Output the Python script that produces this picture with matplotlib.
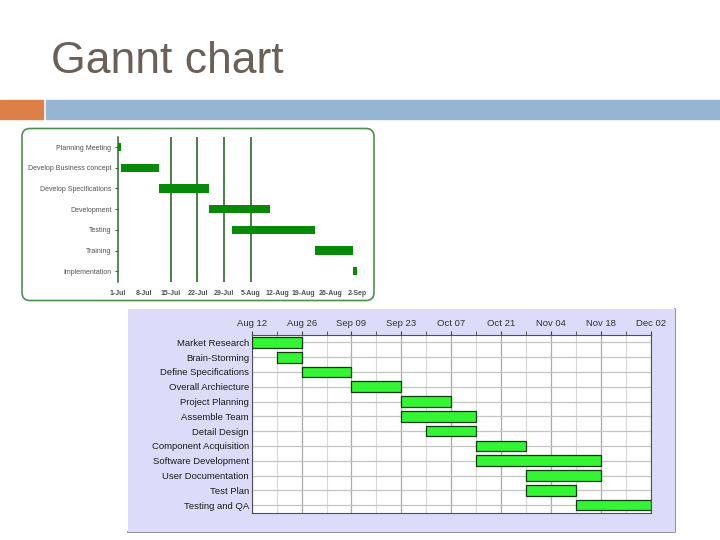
import numpy as np
import matplotlib
matplotlib.use('Agg')
import matplotlib.pyplot as plt
from matplotlib.patches import Rectangle, FancyBboxPatch
from matplotlib.transforms import IdentityTransform

plt.rcParams['font.family'] = ['Liberation Sans', 'DejaVu Sans']

## Data - small chart (days from 1-Jul)
small_tasks = ['Planning Meeting', 'Develop Business concept', 'Develop Specifications',
               'Development', 'Testing', 'Training', 'Implementation']
small_start = [0, 1, 11, 24, 30, 52, 62]
small_end = [1, 11, 24, 40, 52, 62, 63]
small_ticks = ['1-Jul', '8-Jul', '15-Jul', '22-Jul', '29-Jul', '5-Aug',
               '12-Aug', '19-Aug', '26-Aug', '2-Sep']
small_lines = [14, 21, 28, 35]

## Data - big chart (days from Aug 12)
tasks = ['Market Research', 'Brain-Storming', 'Define Specifications', 'Overall Archiecture',
         'Project Planning', 'Assemble Team', 'Detail Design', 'Component Acquisition',
         'Software Development', 'User Documentation', 'Test Plan', 'Testing and QA']
task_start = [0, 7, 14, 28, 42, 42, 49, 63, 63, 77, 77, 91]
task_end = [14, 14, 28, 42, 56, 63, 63, 77, 98, 98, 91, 112]
tick_labels = ['Aug 12', 'Aug 26', 'Sep 09', 'Sep 23', 'Oct 07', 'Oct 21',
               'Nov 04', 'Nov 18', 'Dec 02']

W, H = 720, 540
fig = plt.figure(figsize=(7.2, 5.4), dpi=100)


def px_axes(x0, y0, x1, y1):
    # pixel box (top-left origin) -> figure axes
    ax = fig.add_axes([x0 / W, 1 - y1 / H, (x1 - x0) / W, (y1 - y0) / H])
    ax.set_zorder(2)
    return ax


# Slide header
fig.text(0.071, 1 - 73 / H, 'Gannt chart', fontsize=32, color='#6b5f58', va='baseline')
fig.patches.append(Rectangle((0, 1 - 119 / H), 43 / W, 19 / H, transform=fig.transFigure,
                             color='#dd8047', zorder=-1))
fig.patches.append(Rectangle((46 / W, 1 - 119 / H), 1 - 46 / W, 19 / H, transform=fig.transFigure,
                             color='#94b6d2', zorder=-1))

# Small chart frame
fig.patches.append(FancyBboxPatch((22, H - 300.5), 352, 172, boxstyle='round,pad=0,rounding_size=8',
                                  transform=IdentityTransform(), fc='white', ec='#4f8f4f', lw=1.2,
                                  zorder=-1))

ax1 = px_axes(117.7, 136.7, 357, 281.7)
ax1.patch.set_alpha(0)
y1 = np.arange(len(small_tasks))
ax1.barh(y1, np.array(small_end) - np.array(small_start), left=small_start, height=0.4,
         color='#078a07', zorder=3)
for d in small_lines:
    ax1.axvline(d, color='#2a6a2a', lw=1.2, zorder=2)
ax1.set_ylim(len(small_tasks) - 0.5, -0.5)
ax1.set_xlim(0, 63)
ax1.set_yticks(y1)
ax1.set_yticklabels(small_tasks, fontsize=5, color='#505050')
ax1.set_xticks(np.arange(len(small_ticks)) * 7)
ax1.set_xticklabels(small_ticks, fontsize=5, color='#505050', fontweight='bold')
ax1.tick_params(axis='x', length=0, pad=6)
ax1.tick_params(axis='y', length=2.5, color='#2a6a2a', pad=2)
for s in ['top', 'right', 'bottom']:
    ax1.spines[s].set_visible(False)
ax1.spines['left'].set_color('#2a6a2a')
ax1.spines['left'].set_linewidth(1.1)

# Big chart panel
fig.patches.append(Rectangle((128.3, H - 532.3), 546.7, 223, transform=IdentityTransform(),
                             fc='#dcdcfa', ec='none', zorder=-1))
fig.lines.append(plt.Line2D([674.5, 674.5, 128.3], [H - 309.3, H - 532, H - 532],
                            transform=IdentityTransform(), color='#7a7a9a', lw=1.2, zorder=-1))

ax2 = px_axes(251.7, 335, 650.7, 512.5)
ax2.set_facecolor('white')
y2 = np.arange(len(tasks))
ax2.set_xticks(np.arange(0, 113, 7), minor=True)
ax2.set_xticks(np.arange(len(tick_labels)) * 14)
ax2.set_xticklabels(tick_labels, fontsize=6.8, color='#303030')
ax2.grid(which='minor', axis='x', color='#d8d8d8', lw=0.8, zorder=0)
ax2.grid(which='major', axis='x', color='#a8a8a8', lw=0.9, zorder=0)
ax2.set_yticks(y2)
ax2.grid(which='major', axis='y', color='#c4c4c4', lw=0.9, zorder=0)
ax2.set_axisbelow(True)
ax2.barh(y2, np.array(task_end) - np.array(task_start), left=task_start, height=0.72,
         color='#33f533', edgecolor='#123a12', lw=0.9, zorder=3)
ax2.set_ylim(len(tasks) - 0.5, -0.5)
ax2.set_xlim(0, 112)
ax2.set_yticklabels(tasks, fontsize=6.8, color='#1a1a1a')
ax2.xaxis.tick_top()
ax2.tick_params(axis='x', which='both', length=3, color='#404040', pad=2)
ax2.tick_params(axis='y', length=0, pad=2)
for s in ax2.spines.values():
    s.set_color('#505050')
    s.set_linewidth(0.8)

fig.savefig('out.png', dpi=100)
